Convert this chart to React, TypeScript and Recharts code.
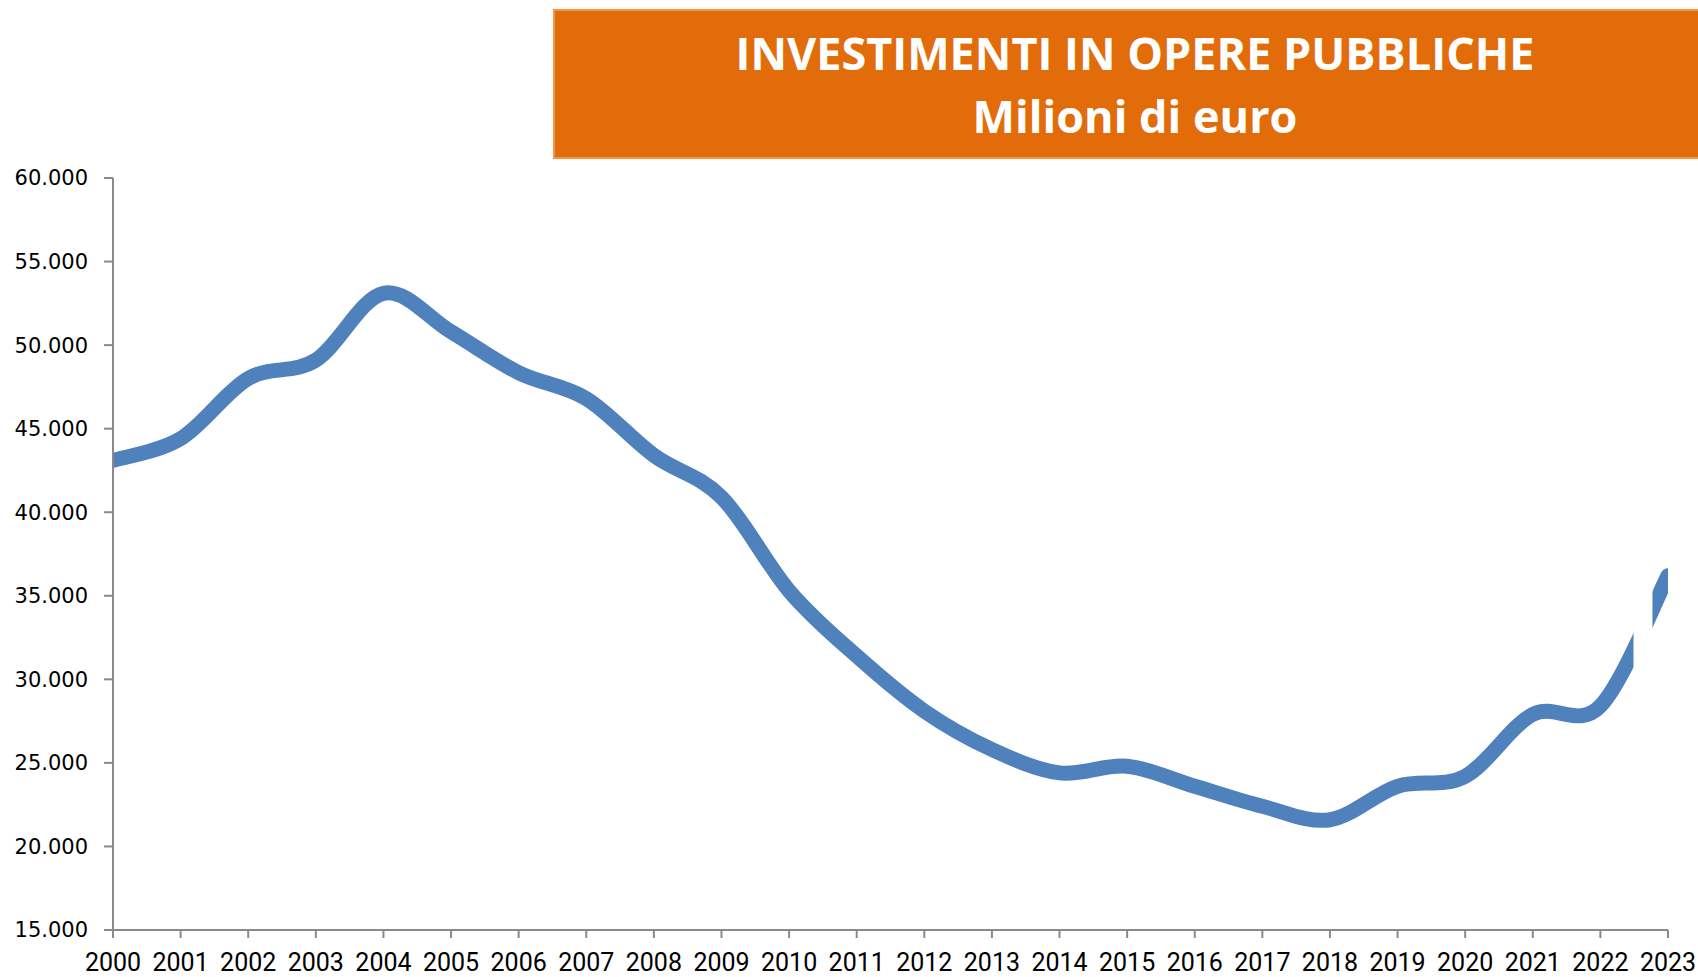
import {
  LineChart,
  Line,
  XAxis,
  YAxis,
  ReferenceArea,
} from 'recharts';

const years = [
  2000, 2001, 2002, 2003, 2004, 2005, 2006, 2007, 2008, 2009, 2010, 2011,
  2012, 2013, 2014, 2015, 2016, 2017, 2018, 2019, 2020, 2021, 2022, 2023,
];

// milioni di euro
const investimenti = [
  43100, 44400, 48000, 49100, 53100, 50800, 48350, 46800, 43400, 40900,
  35300, 31400, 28100, 25800, 24400, 24800, 23600, 22400, 21600, 23600,
  24200, 27900, 28400, 36200,
];

const yTicks = [15000, 20000, 25000, 30000, 35000, 40000, 45000, 50000, 55000, 60000];

// the line is interrupted just before 2023 in the original
const gapFrom = 2022.49;
const gapTo = 2022.77;

const data = years.map((year, i) => ({ year, value: investimenti[i] }));

const axisColor = '#8a8a8a';
const lineColor = '#4f81bd';

const W = 1698;
const H = 977;
const margin = { top: 178, right: 30, bottom: 0, left: 0 };

const formatThousands = (v: number) =>
  String(Math.round(v)).replace(/\B(?=(\d{3})+(?!\d))/g, '.');

// Excel-like smoothing (Catmull-Rom through every point)
const excelSmooth = (context: any) => {
  let pts: number[][] = [];
  return {
    areaStart() {},
    areaEnd() {},
    lineStart() {
      pts = [];
    },
    point(x: number, y: number) {
      pts.push([+x, +y]);
    },
    lineEnd() {
      const n = pts.length;
      if (!n) return;
      context.moveTo(pts[0][0], pts[0][1]);
      for (let i = 0; i < n - 1; i++) {
        const p0 = pts[Math.max(i - 1, 0)];
        const p1 = pts[i];
        const p2 = pts[i + 1];
        const p3 = pts[Math.min(i + 2, n - 1)];
        context.bezierCurveTo(
          p1[0] + (p2[0] - p0[0]) / 6,
          p1[1] + (p2[1] - p0[1]) / 6,
          p2[0] - (p3[0] - p1[0]) / 6,
          p2[1] - (p3[1] - p1[1]) / 6,
          p2[0],
          p2[1]
        );
      }
    },
  };
};

export default function App() {
  return (
    <div style={{ position: 'absolute', left: 0, top: 0, width: W, height: H, background: '#fff', overflow: 'hidden' }}>
      <LineChart width={W} height={H} data={data} margin={margin}>
        <XAxis
          dataKey="year"
          type="number"
          domain={[2000, 2023]}
          ticks={years}
          interval={0}
          allowDataOverflow
          height={47}
          stroke={axisColor}
          strokeWidth={2}
          tickSize={8}
          tickMargin={15}
          tick={{ fill: '#000', fontSize: 25, fontFamily: 'Roboto, sans-serif' }}
        />
        <YAxis
          type="number"
          domain={[15000, 60000]}
          ticks={yTicks}
          interval={0}
          allowDataOverflow
          width={113}
          stroke={axisColor}
          strokeWidth={2}
          tickSize={9}
          tickMargin={16}
          tickFormatter={formatThousands}
          tick={{ fill: '#000', fontSize: 21, fontFamily: '"DejaVu Sans", sans-serif' }}
        />
        <Line
          dataKey="value"
          type={excelSmooth as any}
          stroke={lineColor}
          strokeWidth={15}
          strokeLinecap="round"
          dot={false}
          activeDot={false}
          isAnimationActive={false}
        />
      </LineChart>

      {/* same scales on top, only to cut the gap in the line */}
      <div style={{ position: 'absolute', left: 0, top: 0, pointerEvents: 'none' }}>
        <LineChart width={W} height={H} data={data} margin={margin}>
          <XAxis dataKey="year" type="number" domain={[2000, 2023]} allowDataOverflow height={47} axisLine={false} tick={false} tickLine={false} />
          <YAxis type="number" domain={[15000, 60000]} allowDataOverflow width={113} axisLine={false} tick={false} tickLine={false} />
          <Line dataKey="value" stroke="none" dot={false} activeDot={false} isAnimationActive={false} />
          <ReferenceArea
            x1={gapFrom}
            x2={gapTo}
            y1={15500}
            y2={60000}
            fill="#fff"
            fillOpacity={1}
            stroke="none"
            ifOverflow="hidden"
          />
        </LineChart>
      </div>

      <div
        style={{
          position: 'absolute',
          left: 553,
          top: 9,
          width: 1162,
          height: 150,
          boxSizing: 'border-box',
          background: '#e36c0a',
          borderTop: '2px solid #f79646',
          borderBottom: '2px solid #f79646',
          borderLeft: '2px solid #f79646',
          color: '#fff',
          fontFamily: '"Open Sans", sans-serif',
          fontWeight: 700,
          fontSize: 45,
          lineHeight: '63px',
          textAlign: 'center',
          paddingTop: 10,
        }}
      >
        <div>INVESTIMENTI IN OPERE PUBBLICHE</div>
        <div>Milioni di euro</div>
      </div>
    </div>
  );
}
